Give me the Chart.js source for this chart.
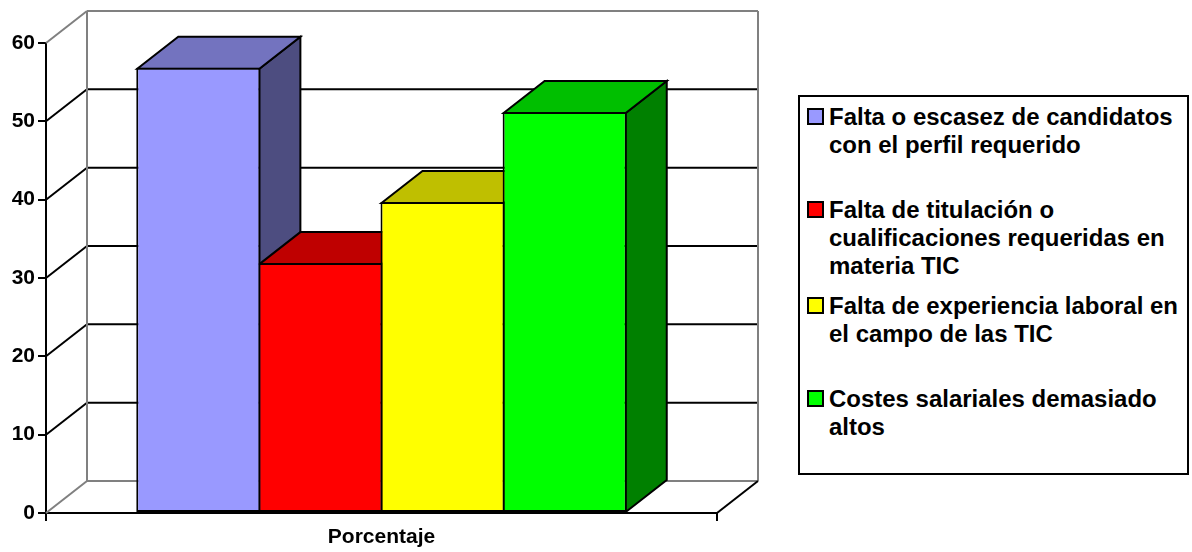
<!DOCTYPE html>
<html lang="es">
<head>
<meta charset="utf-8">
<title>Porcentaje</title>
<script src="https://cdn.jsdelivr.net/npm/chart.js@4"></script>
<style>
  html, body { margin: 0; padding: 0; background: #fff; }
  #wrap { position: relative; width: 1192px; height: 552px; overflow: hidden; }
  #chart { position: absolute; left: 0; top: 0; }
  #legend {
    position: absolute; left: 798px; top: 95px; width: 387px; height: 376px;
    border: 2px solid #000; background: #fff;
    font: bold 23px "Liberation Sans", Arial, sans-serif; color: #000;
  }
  .item { position: absolute; left: 7px; }
  .swatch {
    position: absolute; left: 0; top: 0; width: 13px; height: 13px;
    border: 2px solid #000;
  }
  .text {
    position: absolute; left: 22px; top: -5px; white-space: nowrap;
    line-height: 28px; transform: scaleX(1.042); transform-origin: left top;
  }
</style>
</head>
<body>
<div id="wrap">
  <canvas id="chart" width="1192" height="552"></canvas>
  <div id="legend"></div>
</div>
<script>
const categories = ["Porcentaje"];
const seriesNames = [
  "Falta o escasez de candidatos con el perfil requerido",
  "Falta de titulación o cualificaciones requeridas en materia TIC",
  "Falta de experiencia laboral en el campo de las TIC",
  "Costes salariales demasiado altos"
];
const legendLines = [
  ["Falta o escasez de candidatos", "con el perfil requerido"],
  ["Falta de titulación o", "cualificaciones requeridas en", "materia TIC"],
  ["Falta de experiencia laboral en", "el campo de las TIC"],
  ["Costes salariales demasiado", "altos"]
];
const seriesValues = [56.85, 31.9, 39.7, 51.2];
const yTicks = [0, 10, 20, 30, 40, 50, 60];

const frontColors = ["#9999FF", "#FF0000", "#FFFF00", "#00FF00"];
const topColors = ["#7373BF", "#BF0000", "#BFBF00", "#00BF00"];
const sideColors = ["#4D4D80", "#800000", "#808000", "#008000"];

// 3D look: how far the back of the box sits from the front plane
const DEPTH_X = 41;
const DEPTH_Y = 32;
const BORDER = 2;
const FONT = '"Liberation Sans", Arial, sans-serif';

function line(ctx, x1, y1, x2, y2, color) {
  ctx.strokeStyle = color;
  ctx.beginPath();
  ctx.moveTo(x1, y1);
  ctx.lineTo(x2, y2);
  ctx.stroke();
}

function face(ctx, pts, fill) {
  ctx.fillStyle = fill;
  ctx.beginPath();
  pts.forEach((p, i) => i ? ctx.lineTo(p[0], p[1]) : ctx.moveTo(p[0], p[1]));
  ctx.closePath();
  ctx.fill();
  ctx.stroke();
}

/* ================= WALLS, FLOOR AND BAR DEPTH ================= */
const box3d = {
  id: "box3d",
  beforeDatasetsDraw(chart) {
    const { ctx, chartArea: area, scales } = chart;
    const y = scales.y;
    const left = area.left, right = area.right;
    const base = y.getPixelForValue(0);
    const top = y.getPixelForValue(60);

    ctx.save();
    ctx.lineWidth = 2;

    // gridlines: diagonal on the left wall, then along the back wall
    yTicks.slice(1, -1).forEach(v => {
      const py = y.getPixelForValue(v);
      line(ctx, left, py, left + DEPTH_X, py - DEPTH_Y, "#000");
      line(ctx, left + DEPTH_X, py - DEPTH_Y, right + DEPTH_X, py - DEPTH_Y, "#000");
    });

    // grey frame
    const gray = "#808080";
    line(ctx, left, top, left + DEPTH_X, top - DEPTH_Y, gray);
    line(ctx, left + DEPTH_X, top - DEPTH_Y, right + DEPTH_X, top - DEPTH_Y, gray);
    line(ctx, left + DEPTH_X, top - DEPTH_Y, left + DEPTH_X, base - DEPTH_Y, gray);
    line(ctx, right + DEPTH_X, top - DEPTH_Y, right + DEPTH_X, base - DEPTH_Y, gray);
    line(ctx, left, base, left + DEPTH_X, base - DEPTH_Y, gray);
    line(ctx, left + DEPTH_X, base - DEPTH_Y, right + DEPTH_X, base - DEPTH_Y, gray);
    line(ctx, right, base, right + DEPTH_X, base - DEPTH_Y, "#000");

    // top and side of each bar, left to right so the next one covers the last
    // Chart.js draws the border inside the bar, so step in to the border centre
    ctx.strokeStyle = "#000";
    chart.data.datasets.forEach((ds, i) => {
      const bar = chart.getDatasetMeta(i).data[0];
      const x1 = bar.x - bar.width / 2 + BORDER / 2;
      const x2 = bar.x + bar.width / 2 - BORDER / 2;
      const yTop = bar.y + BORDER / 2;
      face(ctx, [[x2, yTop], [x2 + DEPTH_X, yTop - DEPTH_Y], [x2 + DEPTH_X, bar.base - DEPTH_Y], [x2, bar.base]], sideColors[i]);
      face(ctx, [[x1, yTop], [x1 + DEPTH_X, yTop - DEPTH_Y], [x2 + DEPTH_X, yTop - DEPTH_Y], [x2, yTop]], topColors[i]);
    });
    ctx.restore();
  }
};

/* ================= CHART ================= */
new Chart(document.getElementById("chart"), {
  type: "bar",
  data: {
    labels: categories,
    datasets: seriesNames.map((name, i) => ({
      label: name,
      data: [seriesValues[i]],
      backgroundColor: frontColors[i],
      borderColor: "#000",
      borderWidth: BORDER,
      borderSkipped: false,
      // a bit over 1 so neighbouring borders land on top of each other
      barPercentage: 1.0164,
      categoryPercentage: 0.728
    }))
  },
  options: {
    responsive: false,
    animation: false,
    layout: { padding: { top: 43, right: 475, bottom: 0, left: 0 } },
    plugins: { legend: { display: false }, tooltip: { enabled: false } },
    scales: {
      x: {
        grid: { drawOnChartArea: false, color: "#000", lineWidth: 2, tickLength: 8 },
        border: { color: "#000", width: 2 },
        ticks: { color: "#000", padding: 4, font: { family: FONT, size: 21, weight: "bold" } },
        afterFit: s => { s.height = 39; }
      },
      y: {
        min: 0,
        max: 60,
        afterBuildTicks: s => { s.ticks = yTicks.map(v => ({ value: v })); },
        grid: { drawOnChartArea: false, color: "#000", lineWidth: 2, tickLength: 8 },
        border: { color: "#000", width: 2 },
        ticks: { color: "#000", padding: 3, font: { family: FONT, size: 21, weight: "bold" } },
        afterFit: s => { s.width = 46; }
      }
    }
  },
  plugins: [box3d]
});

/* ================= LEGEND ================= */
const legendTops = [11, 104, 200, 293];
const legendEl = document.getElementById("legend");
legendLines.forEach((lines, i) => {
  const item = document.createElement("div");
  item.className = "item";
  item.style.top = legendTops[i] + "px";

  const swatch = document.createElement("div");
  swatch.className = "swatch";
  swatch.style.background = frontColors[i];
  item.appendChild(swatch);

  const text = document.createElement("div");
  text.className = "text";
  text.innerHTML = lines.join("<br>");
  item.appendChild(text);

  legendEl.appendChild(item);
});
</script>
</body>
</html>
